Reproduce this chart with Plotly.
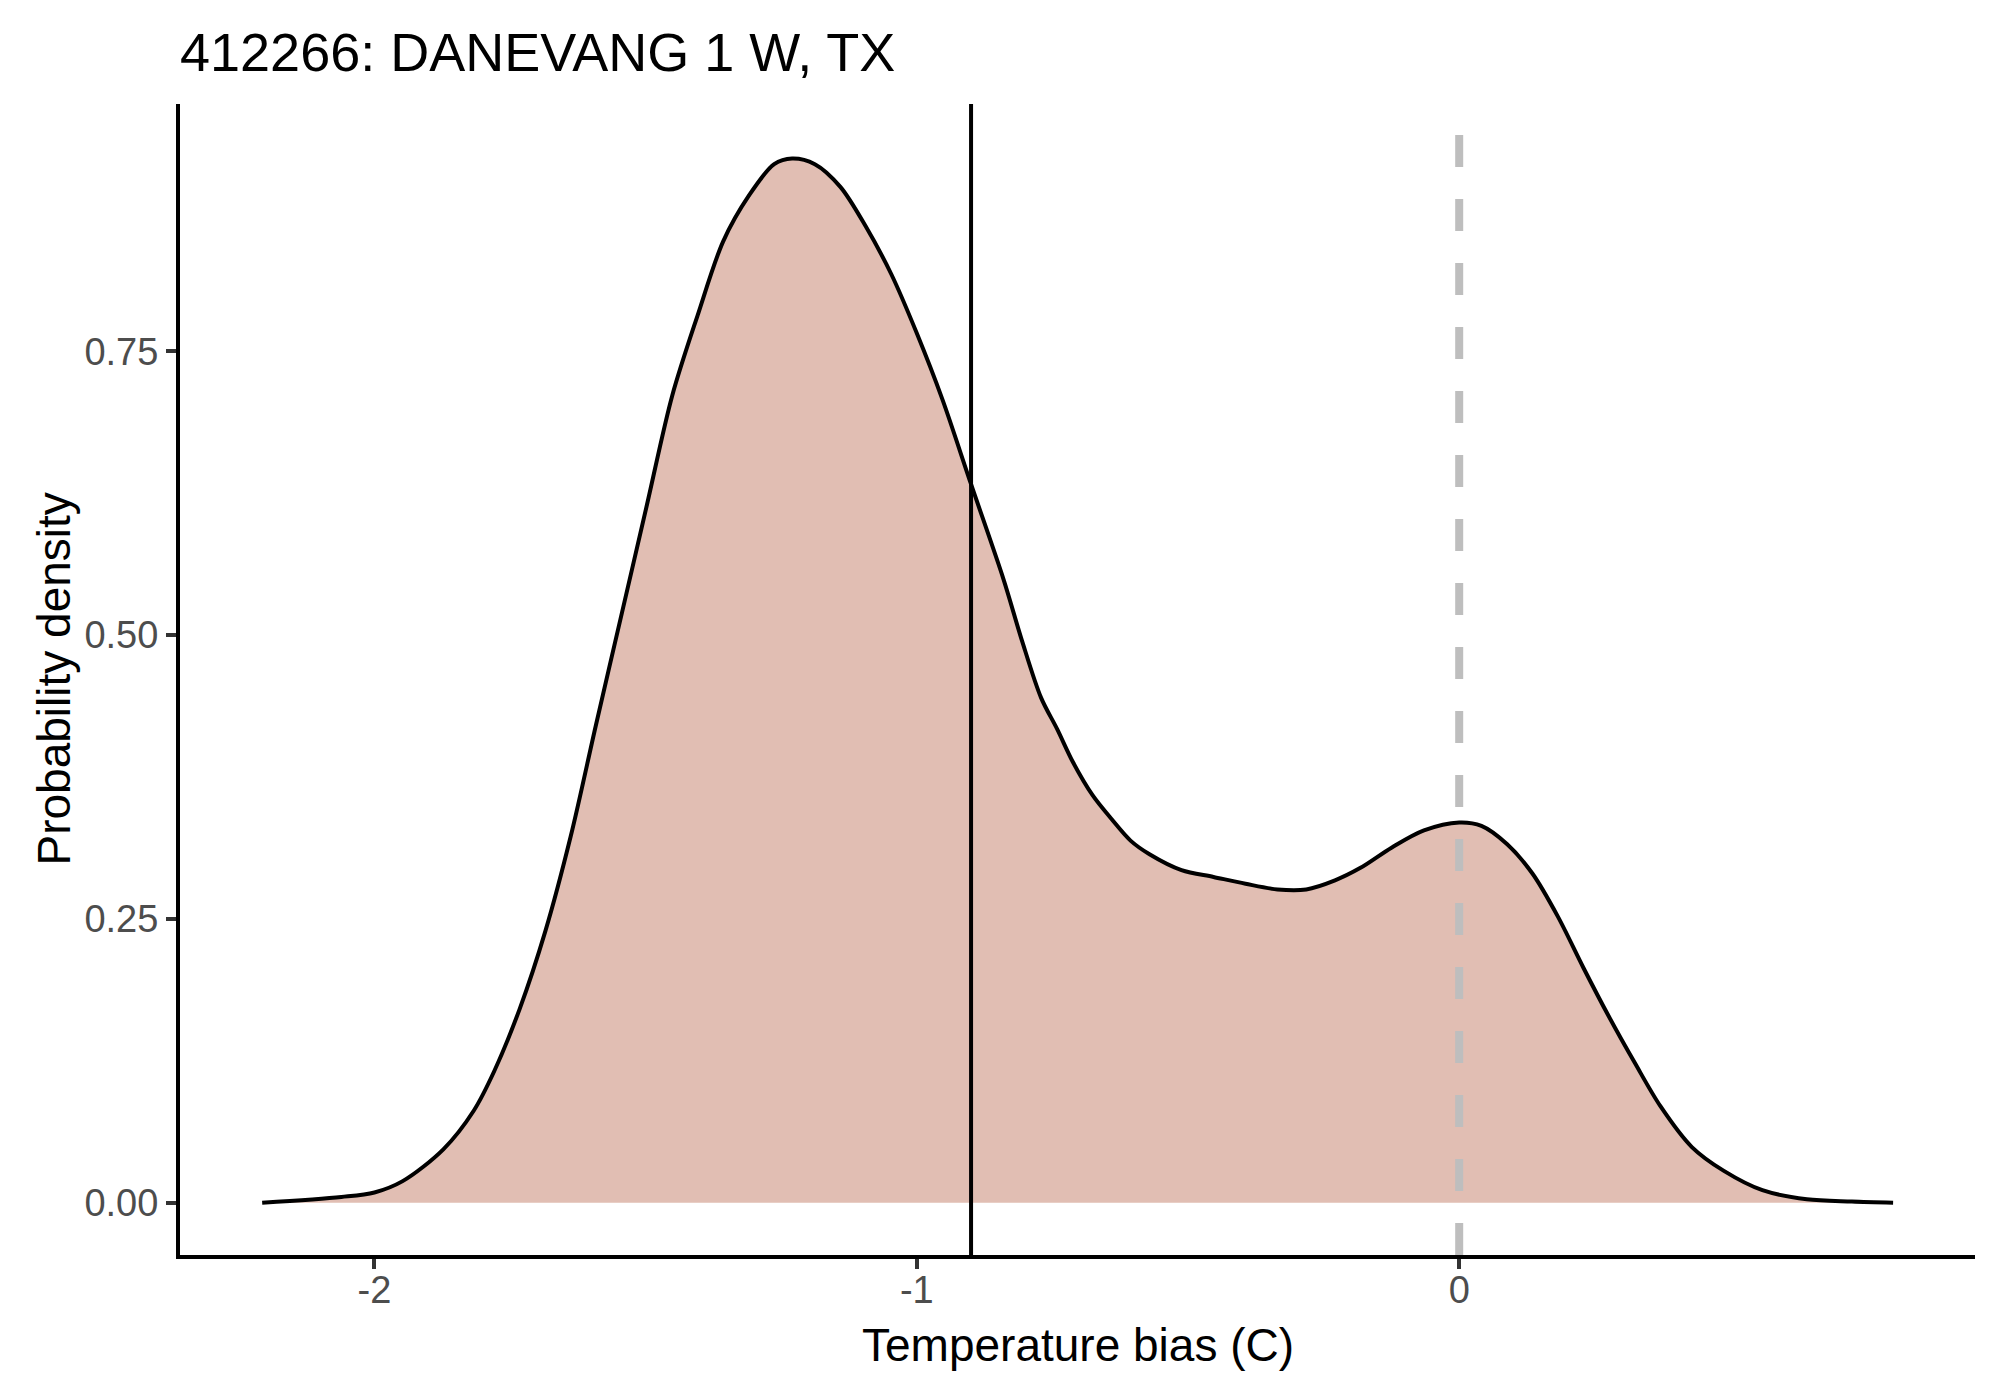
import plotly.graph_objects as go

# Density of temperature bias
bias_x = [-2.207, -2.061, -2.000, -1.948, -1.873, -1.817, -1.779, -1.732, -1.685, -1.638,
          -1.592, -1.545, -1.498, -1.451, -1.404, -1.357, -1.310, -1.263, -1.230, -1.188,
          -1.141, -1.094, -1.047, -1.000, -0.953, -0.900, -0.840, -0.806, -0.771, -0.741,
          -0.712, -0.676, -0.641, -0.606, -0.571, -0.512, -0.453, -0.394, -0.335, -0.282,
          -0.229, -0.182, -0.124, -0.065, 0.000, 0.041, 0.088, 0.135, 0.182, 0.229,
          0.276, 0.324, 0.371, 0.429, 0.488, 0.559, 0.641, 0.724, 0.800]
density = [0.000, 0.005, 0.009, 0.019, 0.047, 0.081, 0.116, 0.171, 0.239, 0.323,
           0.420, 0.517, 0.614, 0.711, 0.782, 0.847, 0.887, 0.915, 0.920, 0.915,
           0.895, 0.860, 0.818, 0.766, 0.708, 0.633, 0.549, 0.495, 0.445, 0.417,
           0.388, 0.359, 0.338, 0.319, 0.307, 0.293, 0.287, 0.281, 0.276, 0.276,
           0.284, 0.295, 0.313, 0.328, 0.335, 0.332, 0.316, 0.290, 0.252, 0.207,
           0.164, 0.123, 0.085, 0.049, 0.028, 0.011, 0.003, 0.001, 0.000]

mean_bias = -0.9   # solid line
zero_bias = 0.0    # dashed reference line

x_ticks = [-2, -1, 0]
x_ticklabels = ["-2", "-1", "0"]
y_ticks = [0, 0.25, 0.5, 0.75]
y_ticklabels = ["0.00", "0.25", "0.50", "0.75"]

station = "412266: DANEVANG 1 W, TX"

font = "Liberation Sans, Arial, sans-serif"

# plot panel: x 172..1967, y 96..1247 px
W, H = 1990, 1384
ml, mr, mt, mb = 172, 23, 96, 137
pw, ph = W - ml - mr, H - mt - mb

fig = go.Figure()

fig.add_trace(go.Scatter(
    x=bias_x,
    y=density,
    mode='lines',
    line=dict(color='black', width=4, shape='spline', smoothing=0.9),
    fill='tozeroy',
    fillcolor='#E1BEB3',
    showlegend=False,
    hoverinfo='skip'
))

# vertical lines across the full panel
fig.add_shape(type='line', xref='x', yref='paper', x0=zero_bias, x1=zero_bias, y0=0, y1=1,
              line=dict(color='#BEBEBE', width=8, dash='32px,32px'))
fig.add_shape(type='line', xref='x', yref='paper', x0=mean_bias, x1=mean_bias, y0=0, y1=1,
              line=dict(color='black', width=4))

axis_style = dict(
    showgrid=False,
    zeroline=False,
    showline=True,
    linecolor='black',
    linewidth=4,
    ticks='outside',
    ticklen=10,
    tickwidth=4,
    tickcolor='#333333',
    tickfont=dict(size=38, color='#4D4D4D', family=font)
)

fig.update_layout(
    width=W,
    height=H,
    autosize=False,
    margin=dict(l=ml, r=mr, t=mt, b=mb),
    plot_bgcolor='white',
    paper_bgcolor='white',
    font=dict(family=font, color='black'),
    title=dict(
        text=station,
        x=0, xref='paper', xanchor='left',
        y=1 - 44 / H, yref='container', yanchor='middle',
        font=dict(size=54, color='black', family=font)
    ),
    xaxis=dict(range=[-2.3585, 0.951], tickvals=x_ticks, ticktext=x_ticklabels,
               ticklabelstandoff=-12, **axis_style),
    yaxis=dict(range=[-0.0461, 0.968], tickvals=y_ticks, ticktext=y_ticklabels, **axis_style),
    annotations=[
        dict(text='Temperature bias (C)', xref='paper', yref='paper',
             x=0.5, y=-(1337 - (H - mb)) / ph, xanchor='center', yanchor='middle',
             showarrow=False, font=dict(size=46, color='black', family=font)),
        dict(text='Probability density', xref='paper', yref='paper',
             x=-(ml - 45) / pw, y=0.5, xanchor='center', yanchor='middle', textangle=-90,
             showarrow=False, font=dict(size=46, color='black', family=font)),
    ]
)

fig.write_html("out.html")
